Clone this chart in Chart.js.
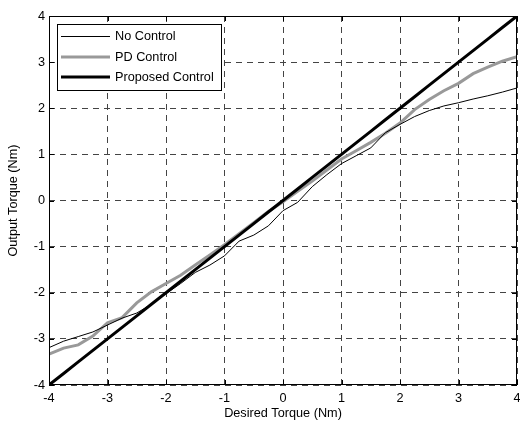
<!DOCTYPE html>
<html>
<head>
<meta charset="utf-8">
<script src="https://cdn.jsdelivr.net/npm/chart.js@4/dist/chart.umd.min.js"></script>
<style>
  html, body { margin: 0; padding: 0; background: #fff; }
  #wrap { width: 520px; height: 421px; }
</style>
</head>
<body>
<div id="wrap"><canvas id="torque"></canvas></div>
<script>
// desired torque (Nm)
const desired = [-4, -3.75, -3.5, -3.25, -3, -2.75, -2.5, -2.25, -2, -1.75, -1.5, -1.25, -1, -0.75, -0.5, -0.25,
  0, 0.25, 0.5, 0.75, 1, 1.25, 1.5, 1.75, 2, 2.25, 2.5, 2.75, 3, 3.25, 3.5, 3.75, 4];

const noControl = [-3.19, -3.05, -2.95, -2.85, -2.70, -2.55, -2.44, -2.25, -2.02, -1.80, -1.56, -1.40, -1.20, -0.88, -0.75, -0.55,
  -0.22, -0.04, 0.30, 0.56, 0.80, 0.97, 1.14, 1.47, 1.65, 1.82, 1.95, 2.05, 2.12, 2.20, 2.27, 2.35, 2.44];

const pdControl = [-3.33, -3.20, -3.13, -2.94, -2.65, -2.54, -2.22, -1.98, -1.80, -1.62, -1.40, -1.18, -0.96, -0.72, -0.48, -0.24,
  -0.03, 0.20, 0.42, 0.66, 0.90, 1.08, 1.26, 1.46, 1.68, 1.97, 2.19, 2.38, 2.54, 2.75, 2.89, 3.02, 3.12];

const proposed = [-4, -3.75, -3.5, -3.25, -3, -2.75, -2.5, -2.25, -2, -1.75, -1.5, -1.25, -1, -0.75, -0.5, -0.25,
  0, 0.25, 0.5, 0.75, 1, 1.25, 1.5, 1.75, 2, 2.25, 2.5, 2.75, 3, 3.25, 3.5, 3.75, 4];

const tickValues = [-4, -3, -2, -1, 0, 1, 2, 3, 4];

const font = { family: "'Liberation Sans', Arial, sans-serif", size: 12.7 };

function toPoints(ys) {
  return desired.map((x, i) => ({ x: x, y: ys[i] }));
}

// matlab style box with inward ticks, plus legend inside the axes
const boxAndLegend = {
  id: "boxAndLegend",
  afterDraw(chart) {
    const { ctx, chartArea: a, scales } = chart;
    ctx.save();
    ctx.strokeStyle = "#000";
    ctx.lineWidth = 1;
    ctx.setLineDash([]);
    ctx.strokeRect(a.left + 0.5, a.top + 0.5, a.right - a.left - 1, a.bottom - a.top - 1);

    const len = 5;
    ctx.beginPath();
    for (const v of tickValues) {
      const px = Math.round(scales.x.getPixelForValue(v)) + 0.5;
      ctx.moveTo(px, a.bottom); ctx.lineTo(px, a.bottom - len);
      ctx.moveTo(px, a.top); ctx.lineTo(px, a.top + len);
      const py = Math.round(scales.y.getPixelForValue(v)) + 0.5;
      ctx.moveTo(a.left, py); ctx.lineTo(a.left + len, py);
      ctx.moveTo(a.right, py); ctx.lineTo(a.right - len, py);
    }
    ctx.stroke();

    // legend
    const lx = 57, ly = 24, lw = 164, lh = 66;
    ctx.fillStyle = "#fff";
    ctx.fillRect(lx, ly, lw, lh);
    ctx.strokeRect(lx + 0.5, ly + 0.5, lw, lh);
    const rows = [36.5, 57, 77];
    ctx.font = font.size + "px " + font.family;
    ctx.textBaseline = "middle";
    chart.data.datasets.forEach((ds, i) => {
      ctx.beginPath();
      ctx.strokeStyle = ds.borderColor;
      ctx.lineWidth = ds.borderWidth;
      ctx.moveTo(61, rows[i]);
      ctx.lineTo(110, rows[i]);
      ctx.stroke();
      ctx.fillStyle = "#000";
      ctx.fillText(ds.label, 115, rows[i]);
    });
    ctx.restore();
  }
};

new Chart(document.getElementById("torque"), {
  type: "scatter",
  data: {
    datasets: [
      { label: "No Control", data: toPoints(noControl), borderColor: "#000", borderWidth: 1, order: 1 },
      { label: "PD Control", data: toPoints(pdControl), borderColor: "#999", borderWidth: 3, order: 2 },
      { label: "Proposed Control", data: toPoints(proposed), borderColor: "#000", borderWidth: 3, order: 0 },
    ].map((d) => Object.assign(d, { showLine: true, pointRadius: 0, tension: 0, fill: false })),
  },
  options: {
    responsive: true,
    maintainAspectRatio: false,
    animation: false,
    layout: { padding: { top: 16, right: 3, left: 0, bottom: 0 } },
    plugins: { legend: { display: false }, tooltip: { enabled: false } },
    scales: {
      x: {
        type: "linear",
        min: -4,
        max: 4,
        afterBuildTicks: (s) => { s.ticks = tickValues.map((v) => ({ value: v })); },
        afterFit: (s) => { s.height = 36; s.paddingLeft = 0; s.paddingRight = 0; },
        ticks: { color: "#000", font: font, padding: 6, maxRotation: 0 },
        grid: { color: "#444", drawTicks: false, lineWidth: 1 },
        border: { display: false, dash: [6, 5] },
        title: { display: true, text: "Desired Torque (Nm)", color: "#000", font: font, padding: { top: 0, bottom: 0 } },
      },
      y: {
        type: "linear",
        min: -4,
        max: 4,
        afterBuildTicks: (s) => { s.ticks = tickValues.map((v) => ({ value: v })); },
        afterFit: (s) => { s.width = 49; },
        ticks: { color: "#000", font: font, padding: 4 },
        grid: { color: "#444", drawTicks: false, lineWidth: 1 },
        border: { display: false, dash: [6, 5] },
        title: { display: true, text: "Output Torque (Nm)", color: "#000", font: font, padding: { top: 6, bottom: 0 } },
      },
    },
  },
  plugins: [boxAndLegend],
});
</script>
</body>
</html>
